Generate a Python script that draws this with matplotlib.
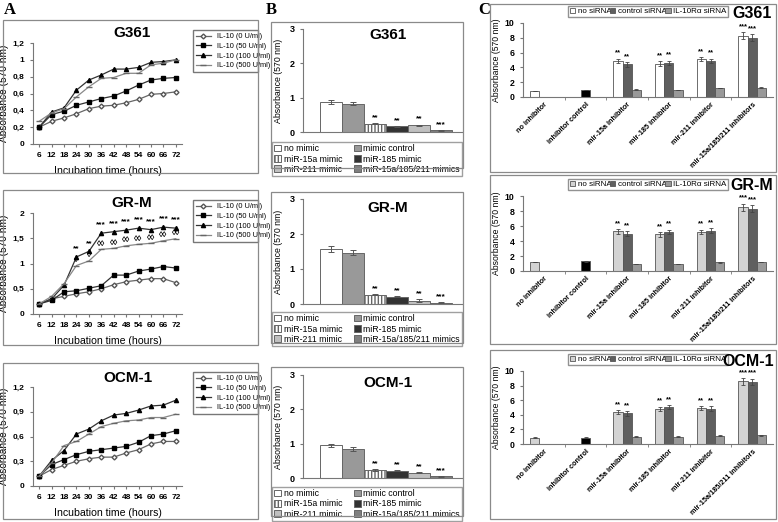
import numpy as np
import matplotlib
matplotlib.use('Agg')
import matplotlib.pyplot as plt
import matplotlib.transforms as mtransforms
from matplotlib.patches import Rectangle, Patch

plt.rcParams['font.family'] = ['Liberation Sans', 'DejaVu Sans']
plt.rcParams['font.weight'] = 'bold'

# ---------------- data: panel A (growth curves) ----------------
hours = [6, 12, 18, 24, 30, 36, 42, 48, 54, 60, 66, 72]
doses = ['IL-10 (0 U/ml)', 'IL-10 (50 U/ml)', 'IL-10 (100 U/ml)', 'IL-10 (500 U/ml)']

a_g361 = [
    [0.20, 0.27, 0.31, 0.36, 0.42, 0.45, 0.46, 0.49, 0.53, 0.59, 0.60, 0.62],
    [0.20, 0.35, 0.39, 0.46, 0.50, 0.54, 0.57, 0.63, 0.70, 0.76, 0.78, 0.79],
    [0.20, 0.38, 0.43, 0.64, 0.76, 0.82, 0.89, 0.89, 0.91, 0.97, 0.98, 1.00],
    [0.27, 0.37, 0.42, 0.56, 0.68, 0.78, 0.79, 0.84, 0.84, 0.94, 0.96, 1.00],
]
a_grm = [
    [0.20, 0.30, 0.35, 0.40, 0.44, 0.50, 0.58, 0.64, 0.67, 0.70, 0.70, 0.62],
    [0.20, 0.27, 0.44, 0.46, 0.51, 0.56, 0.77, 0.77, 0.85, 0.89, 0.94, 0.91],
    [0.20, 0.30, 0.57, 1.13, 1.24, 1.60, 1.63, 1.66, 1.70, 1.67, 1.72, 1.70],
    [0.20, 0.35, 0.60, 0.96, 1.05, 1.28, 1.30, 1.35, 1.38, 1.40, 1.45, 1.49],
]
a_ocm = [
    [0.12, 0.20, 0.25, 0.30, 0.33, 0.35, 0.35, 0.40, 0.44, 0.51, 0.54, 0.54],
    [0.12, 0.26, 0.32, 0.38, 0.42, 0.44, 0.46, 0.48, 0.53, 0.61, 0.63, 0.67],
    [0.12, 0.31, 0.43, 0.63, 0.69, 0.79, 0.86, 0.88, 0.92, 0.97, 0.98, 1.04],
    [0.12, 0.28, 0.49, 0.54, 0.63, 0.72, 0.76, 0.79, 0.80, 0.83, 0.83, 0.87],
]
grm_stars = ['', '', '', '**', '**', '***', '***', '***', '***', '***', '***', '***']
grm_diamonds = ['', '', '', '\u25ca', '\u25ca', '\u25ca\u25ca', '\u25ca\u25ca', '\u25ca\u25ca',
                '\u25ca\u25ca', '\u25ca\u25ca', '\u25ca\u25ca', '\u25ca\u25ca']

# ---------------- data: panel B (mimics) ----------------
mimics = ['no mimic', 'mimic control', 'miR-15a mimic', 'miR-185 mimic',
          'miR-211 mimic', 'miR-15a/185/211 mimics']
b_g361 = [0.88, 0.83, 0.24, 0.17, 0.19, 0.05]
b_g361_err = [0.05, 0.05, 0.02, 0.01, 0.02, 0.01]
b_grm = [1.58, 1.47, 0.27, 0.21, 0.10, 0.04]
b_grm_err = [0.08, 0.07, 0.02, 0.02, 0.03, 0.01]
b_ocm = [0.95, 0.85, 0.23, 0.21, 0.16, 0.05]
b_ocm_err = [0.05, 0.05, 0.02, 0.01, 0.02, 0.01]
b_stars = ['', '', '**', '**', '**', '***']

# ---------------- data: panel C (inhibitors x siRNA) ----------------
inhibitors = ['no inhibitor', 'inhibitor control', 'mir-15a inhibitor', 'mir-185 inhibitor',
              'mir-211 inhibitor', 'mir-15a/185/211 inhibitors']
sirnas = ['no siRNA', 'control siRNA', 'IL-10R\u03b1 siRNA']
c_g361 = [[0.80, None, 4.90, 4.50, 5.10, 8.30],
          [None, 0.95, 4.40, 4.60, 4.85, 8.00],
          [None, None, 1.00, 0.95, 1.20, 1.25]]
c_grm = [[1.20, None, 5.30, 4.90, 5.20, 8.50],
         [None, 1.30, 5.00, 5.20, 5.40, 8.30],
         [None, None, 0.95, 0.95, 1.15, 1.20]]
c_ocm = [[0.85, None, 4.35, 4.80, 4.90, 8.60],
         [None, 0.85, 4.20, 5.05, 4.85, 8.50],
         [None, None, 1.00, 1.00, 1.15, 1.20]]
c_err = [[0.05, 0.0, 0.30, 0.30, 0.30, 0.45],
         [0.0, 0.05, 0.30, 0.30, 0.30, 0.45],
         [0.0, 0.0, 0.05, 0.05, 0.05, 0.05]]
c_stars = ['', '', '**', '**', '**', '***']

W, H = 778, 522
fig = plt.figure(figsize=(W / 100, H / 100), dpi=100)


def px(l, t, r, b):
    return [l / W, 1 - b / H, (r - l) / W, (b - t) / H]


def box(l, t, r, b):
    fig.patches.append(Rectangle((l / W, 1 - b / H), (r - l) / W, (b - t) / H,
                                 transform=fig.transFigure, fill=False,
                                 edgecolor='#8a8a8a', lw=0.9))


def clean(ax):
    for s in ['top', 'right']:
        ax.spines[s].set_visible(False)
    for s in ['left', 'bottom']:
        ax.spines[s].set_color('#777777')
        ax.spines[s].set_linewidth(0.8)
    ax.tick_params(colors='#777777', labelcolor='black', width=0.8)


def comma(v):
    return ('%g' % v).replace('.', ',')


styles = [dict(color='#666666', marker='D', ms=2.5, mfc='white', mec='#555555'),
          dict(color='#333333', marker='s', ms=3, mfc='black', mec='black'),
          dict(color='#333333', marker='^', ms=3, mfc='black', mec='black'),
          dict(color='#888888', marker='_', ms=4, mec='#666666')]


def panel_a(rect, title, tpos, series, yticks, legpos, stars=None, diamonds=None):
    ax = fig.add_axes(px(*rect))
    for vals, lab, st in zip(series, doses, styles):
        ax.plot(hours, vals, lw=0.9, label=lab, **st)
    ax.set_xlim(3, 75)
    ax.set_ylim(0, yticks[-1])
    ax.set_xticks(hours)
    ax.set_yticks(yticks)
    ax.set_yticklabels([comma(v) for v in yticks])
    ax.tick_params(labelsize=6, length=2.5)
    clean(ax)
    ax.set_xlabel('Incubation time (hours)', fontsize=7.6, labelpad=5)
    ax.set_ylabel('Absorbance (570 nm)', fontsize=7.3, labelpad=3)
    fig.text(tpos[0] / W, 1 - tpos[1] / H, title, fontsize=11, ha='center', va='center')
    if stars:
        for x, v, s in zip(hours, series[2], stars):
            if s:
                ax.text(x, v + 0.16, s, ha='center', va='center', fontsize=6)
        for x, v, s in zip(hours, series[3], diamonds):
            if s:
                ax.text(x, v + 0.1, s, ha='center', va='center', fontsize=6)
    l, t, r, b = legpos
    leg = ax.legend(loc='upper left', bbox_to_anchor=px(l, t, r, b),
                    bbox_transform=fig.transFigure, mode='expand', frameon=True,
                    fancybox=False, edgecolor='#555555', borderaxespad=0, handlelength=2.0,
                    labelspacing=0.35, borderpad=0.4, prop={'size': 5.3})
    for txt in leg.get_texts():
        txt.set_fontweight('normal')


panel_a((33, 43, 182, 144), 'G361', (132, 33), a_g361, [0, 0.2, 0.4, 0.6, 0.8, 1.0, 1.2],
        (193, 30, 258, 72))
panel_a((33, 213, 182, 314), 'GR-M', (132, 203), a_grm, [0, 0.5, 1.0, 1.5, 2.0],
        (193, 200, 258, 242), grm_stars, grm_diamonds)
panel_a((33, 387, 182, 486), 'OCM-1', (128, 378), a_ocm, [0, 0.3, 0.6, 0.9, 1.2],
        (193, 372, 258, 414))

b_colors = ['white', '#999999', 'white', '#333333', '#c0c0c0', '#7f7f7f']
b_hatch = [None, None, '|||||', None, None, None]


def panel_b(rect, title, tpos, vals, errs, legpos):
    ax = fig.add_axes(px(*rect))
    x = np.arange(len(vals))
    for i in range(len(vals)):
        ax.bar(x[i], vals[i], width=1.0, color=b_colors[i], edgecolor='#666666', lw=0.7,
               hatch=b_hatch[i], label=mimics[i])
    ax.errorbar(x, vals, yerr=errs, fmt='none', ecolor='#555555', elinewidth=0.7, capsize=2,
                capthick=0.7)
    for xi, v, e, s in zip(x, vals, errs, b_stars):
        if s:
            ax.text(xi, v + e + 0.06, s, ha='center', va='bottom', fontsize=6)
    ax.set_xlim(-1.27, 5.95)
    ax.set_ylim(0, 3)
    ax.set_yticks([0, 1, 2, 3])
    ax.set_xticks([])
    ax.tick_params(labelsize=6.5, length=2.5)
    clean(ax)
    ax.set_ylabel('Absorbance (570 nm)', fontsize=6.3, labelpad=5)
    fig.text(tpos[0] / W, 1 - tpos[1] / H, title, fontsize=11, ha='center', va='center')
    h, lab = ax.get_legend_handles_labels()
    order = [0, 2, 4, 1, 3, 5]
    l, t, r, b = legpos
    leg = ax.legend([h[i] for i in order], [lab[i] for i in order], ncol=2,
                    loc='upper left', bbox_to_anchor=px(l, t, r, b),
                    bbox_transform=fig.transFigure, mode='expand', fontsize=6.3,
                    fancybox=False, edgecolor='#888888', borderaxespad=0,
                    handlelength=0.8, handleheight=0.8, handletextpad=0.3,
                    labelspacing=0.15, borderpad=0.25, columnspacing=1.0)
    for txt in leg.get_texts():
        txt.set_fontweight('normal')


panel_b((303, 29, 462, 132), 'G361', (388, 35), b_g361, b_g361_err, (272, 142, 462, 167))
panel_b((303, 199, 462, 304), 'GR-M', (388, 208), b_grm, b_grm_err, (272, 312, 462, 340))
panel_b((303, 375, 462, 478), 'OCM-1', (388, 383), b_ocm, b_ocm_err, (272, 487, 462, 512))


def panel_c(rect, title, tpos, data, first_color, legpos):
    ax = fig.add_axes(px(*rect))
    x = np.arange(len(inhibitors))
    colors = [first_color, '#5f5f5f', '#999999']
    w = 0.22
    for k in range(3):
        v = np.array([np.nan if d is None else d for d in data[k]], dtype=float)
        bars = ax.bar(x + (k - 1) * w, v, width=w, color=colors[k], edgecolor='#555555', lw=0.6)
        if k == 1:
            bars.patches[1].set_facecolor('black')
        e = np.array(c_err[k])
        ax.errorbar(x + (k - 1) * w, v, yerr=e, fmt='none', ecolor='#444444',
                    elinewidth=0.6, capsize=1.5, capthick=0.6)
        if k < 2:
            for xi, vi, ei, s in zip(x, v, e, c_stars):
                if s:
                    ax.text(xi + (k - 1) * w, vi + ei + 0.3, s, ha='center', va='bottom',
                            fontsize=5.5)
    ax.set_xlim(-0.5, 5.5)
    ax.set_ylim(0, 10)
    ax.set_yticks([0, 2, 4, 6, 8, 10])
    ax.set_xticks(x)
    ax.set_xticklabels(inhibitors, rotation=45, ha='right', rotation_mode='anchor', fontsize=5.2)
    shift = mtransforms.ScaledTranslation(7 / 100, 0, fig.dpi_scale_trans)
    for lbl in ax.get_xticklabels():
        lbl.set_transform(lbl.get_transform() + shift)
    ax.set_xticks(np.arange(0.5, 5.5, 1.0), minor=True)
    ax.tick_params(axis='x', which='major', length=0, pad=3)
    ax.tick_params(axis='x', which='minor', length=2.5, colors='#777777')
    ax.tick_params(axis='y', labelsize=6.3, length=2.5)
    clean(ax)
    ax.set_ylabel('Absorbance (570 nm)', fontsize=6.2, labelpad=3)
    fig.text(tpos[0] / W, 1 - tpos[1] / H, title, fontsize=11.5, ha='center', va='center')
    handles = [Patch(facecolor=colors[k], edgecolor='#555555', lw=0.6) for k in range(3)]
    l, t, r, b = legpos
    leg = ax.legend(handles, sirnas, ncol=3, loc='upper left', bbox_to_anchor=px(l, t, r, b),
                    bbox_transform=fig.transFigure, mode='expand', fontsize=5.8,
                    fancybox=False, edgecolor='#777777', borderaxespad=0,
                    handlelength=0.7, handleheight=0.7, handletextpad=0.3,
                    borderpad=0.2, columnspacing=0.6)
    for txt in leg.get_texts():
        txt.set_fontweight('normal')


panel_c((523, 23, 773, 97), 'G361', (752, 13), c_g361, 'white', (568, 6, 728, 18))
panel_c((523, 196, 773, 271), 'GR-M', (752, 186), c_grm, '#d3d3d3', (568, 179, 728, 191))
panel_c((523, 371, 773, 444), 'OCM-1', (748, 361), c_ocm, '#d3d3d3', (568, 354, 728, 366))

# panel frames and letters
for bx in [(3, 20, 258, 173), (3, 190, 258, 345), (3, 363, 258, 519),
           (271, 22, 463, 168), (271, 192, 463, 343), (271, 367, 463, 516),
           (490, 4, 776, 172), (490, 175, 776, 344), (490, 350, 776, 519)]:
    box(*bx)

for letter, xx in [('A', 4), ('B', 266), ('C', 478)]:
    fig.text(xx / W, 1 - 2 / H, letter, fontsize=12, family='Liberation Serif',
             fontweight='bold', ha='left', va='top')

fig.savefig('out.png', dpi=100)
